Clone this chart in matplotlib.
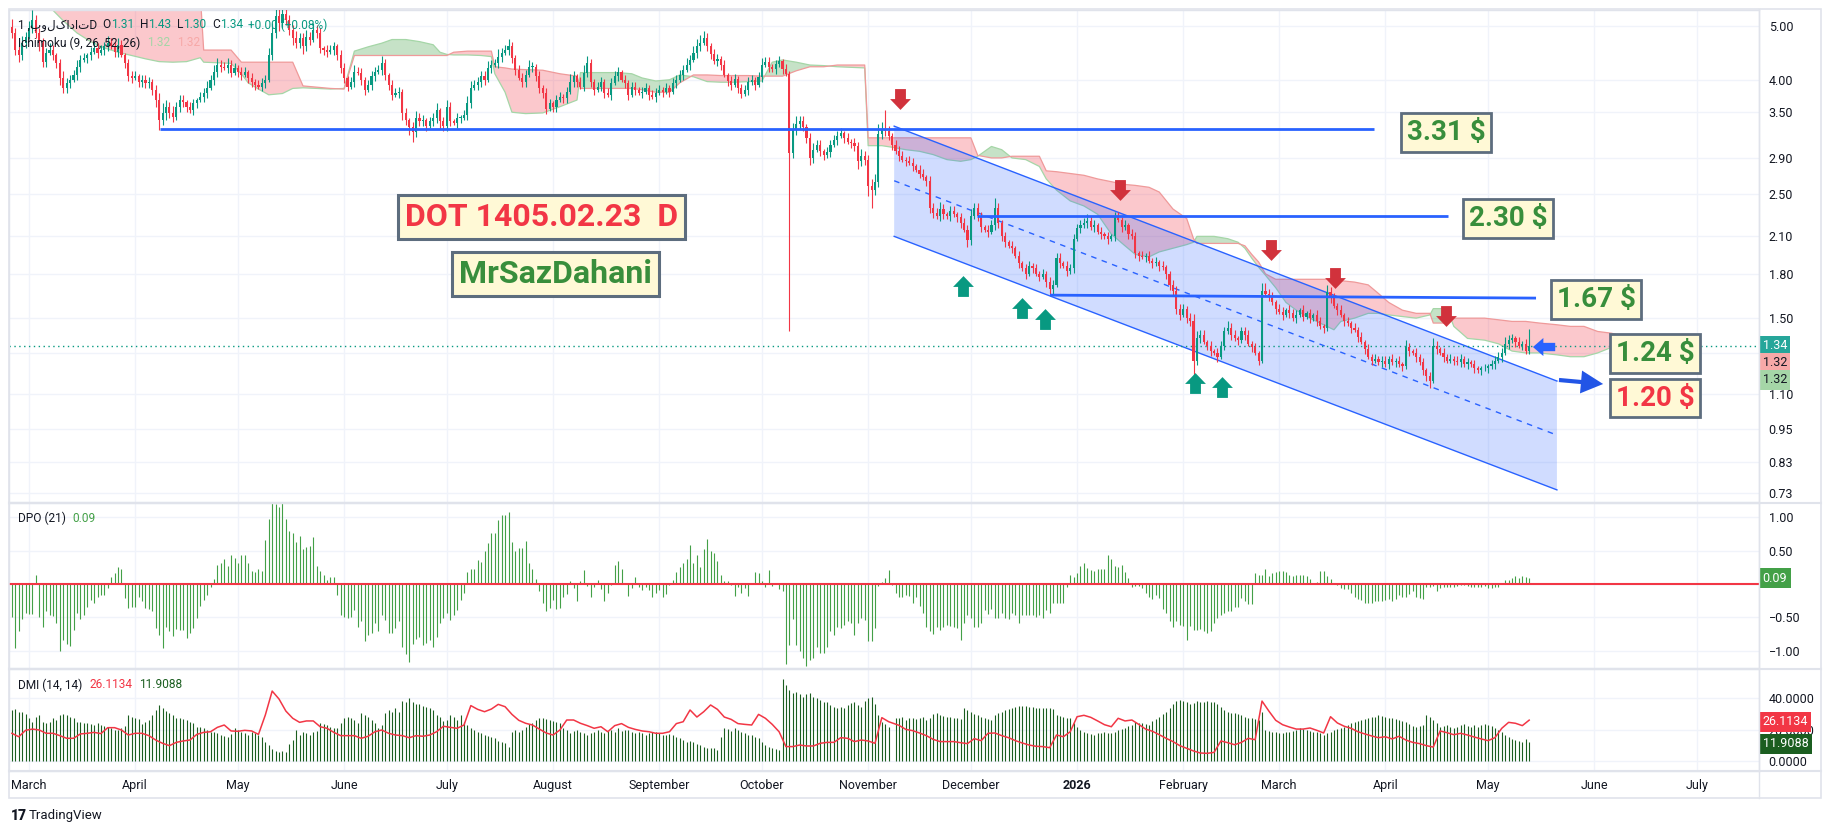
import numpy as np
import pandas as pd
import matplotlib
matplotlib.use("Agg")
from matplotlib import pyplot as plt
from matplotlib.path import Path
from matplotlib.lines import Line2D
from matplotlib.patches import Polygon, Rectangle
from matplotlib.ticker import FixedLocator, FixedFormatter, NullLocator
from matplotlib.transforms import blended_transform_factory

plt.rcParams['font.family'] = ['Roboto', 'DejaVu Sans']

UP, DOWN = '#089981', '#f23645'
TEXT = '#131722'
GRID = '#f0f3fa'
EDGE = '#e0e3eb'
BLUE = '#2962ff'

W, H = 1833, 833
BASE = pd.Timestamp('2025-03-01')
FIRST_DAY = -5          # first candle: 2025-02-24
FIRST_OPEN = 4.98

# daily closes, DOT/USD, 2025-02-24 .. 2026-05-13
close_spring = [
    4.85, 4.52, 4.43, 4.65, 4.77, 4.95, 5.12, 4.85, 4.65, 4.31,
    4.47, 4.52, 4.43, 4.28, 4.03, 3.87, 3.95, 4.00, 4.08, 4.22,
    4.34, 4.38, 4.43, 4.49, 4.56, 4.47, 4.52, 4.59, 4.65, 4.59,
    4.49, 4.62, 4.43, 4.28, 4.06, 4.03, 4.06, 3.97, 4.00, 3.95,
    3.97, 3.84, 3.68, 3.39, 3.49, 3.58, 3.49, 3.43, 3.58, 3.68,
    3.65, 3.58, 3.53, 3.63, 3.68, 3.73, 3.79, 3.87, 4.00, 4.13,
    4.25, 4.22, 4.20, 4.25, 4.12, 4.20, 4.13, 4.08, 4.13, 4.03,
    3.97, 3.92, 3.89, 3.95, 4.00, 4.43, 4.85, 5.19, 5.05, 5.25,
    5.12, 4.91, 4.75, 4.65, 4.75, 4.59, 4.77, 4.71, 4.91, 4.85,
    4.56, 4.52, 4.49, 4.52, 4.59, 4.43, 4.20, 4.03, 3.89, 3.97,
]
close_summer = [
    4.13, 4.12, 4.00, 3.84, 3.92, 4.06, 4.13, 4.17, 4.28, 4.08,
    3.92, 3.76, 3.79, 3.81, 3.49, 3.39, 3.29, 3.22, 3.42, 3.37,
    3.39, 3.31, 3.37, 3.42, 3.53, 3.37, 3.31, 3.58, 3.37, 3.35,
    3.42, 3.42, 3.46, 3.63, 3.87, 3.92, 3.97, 4.06, 4.00, 4.20,
    4.25, 4.28, 4.40, 4.47, 4.52, 4.59, 4.38, 4.17, 4.03, 3.97,
    4.08, 4.22, 4.22, 4.06, 3.87, 3.79, 3.55, 3.63, 3.58, 3.68,
    3.73, 3.71, 3.81, 3.97, 4.06, 3.97, 3.89, 4.12, 4.28, 3.97,
    3.84, 3.89, 3.97, 3.79, 3.76, 3.95, 4.06, 4.13, 4.00, 3.95,
    3.76, 3.89, 3.84, 3.79, 3.81, 3.87, 3.76, 3.73, 3.79, 3.84,
    3.81, 3.87, 3.81, 3.95, 4.00, 4.08, 4.17, 4.25, 4.34, 4.47,
]
close_autumn = [
    4.59, 4.66, 4.75, 4.60, 4.45, 4.32, 4.36, 4.25, 4.08, 3.98,
    3.92, 4.02, 3.86, 3.78, 3.84, 3.96, 4.00, 3.92, 4.05, 4.25,
    4.30, 4.22, 4.18, 4.26, 4.32, 4.18, 4.10, 2.96, 3.25, 3.34,
    3.38, 3.30, 3.15, 2.90, 3.00, 3.06, 2.98, 2.93, 2.97, 3.06,
    3.12, 3.18, 3.21, 3.15, 3.10, 3.08, 3.04, 2.86, 2.92, 2.88,
    2.58, 2.54, 2.63, 3.20, 3.27, 3.24, 3.18, 3.06, 2.98, 2.92,
    2.88, 2.86, 2.84, 2.80, 2.76, 2.72, 2.68, 2.64, 2.36, 2.31,
    2.28, 2.35, 2.30, 2.28, 2.33, 2.30, 2.27, 2.22, 2.16, 2.07,
    2.28, 2.36, 2.28, 2.18, 2.16, 2.14, 2.20, 2.36, 2.22, 2.10,
    2.05, 2.02, 2.00, 1.94, 1.88, 1.84, 1.80, 1.86, 1.84, 1.80,
]
close_winter = [
    1.78, 1.80, 1.74, 1.69, 1.72, 1.92, 1.88, 1.86, 1.82, 1.84,
    2.08, 2.17, 2.20, 2.22, 2.24, 2.18, 2.20, 2.14, 2.12, 2.10,
    2.08, 2.10, 2.28, 2.25, 2.18, 2.20, 2.12, 2.10, 1.96, 1.94,
    1.93, 1.94, 1.90, 1.88, 1.89, 1.86, 1.85, 1.80, 1.72, 1.68,
    1.56, 1.52, 1.56, 1.50, 1.48, 1.26, 1.38, 1.40, 1.36, 1.34,
    1.31, 1.30, 1.28, 1.34, 1.42, 1.44, 1.40, 1.38, 1.37, 1.42,
    1.40, 1.35, 1.33, 1.30, 1.26, 1.68, 1.66, 1.64, 1.60, 1.56,
    1.54, 1.52, 1.55, 1.53, 1.50, 1.52, 1.55, 1.51, 1.53, 1.50,
    1.52, 1.48, 1.45, 1.44, 1.67, 1.63, 1.58, 1.55, 1.52, 1.48,
    1.47, 1.44, 1.43, 1.39, 1.36, 1.32, 1.28, 1.26, 1.27, 1.25,
]
close_spring26 = [
    1.26, 1.24, 1.27, 1.25, 1.26, 1.24, 1.23, 1.33, 1.31, 1.30,
    1.28, 1.25, 1.21, 1.18, 1.16, 1.34, 1.32, 1.30, 1.28, 1.26,
    1.27, 1.26, 1.25, 1.27, 1.24, 1.25, 1.24, 1.22, 1.21, 1.22,
    1.22, 1.23, 1.24, 1.26, 1.28, 1.30, 1.35, 1.37, 1.38, 1.36,
    1.34, 1.35, 1.31, 1.34,
]

# wick lengths in percent of the body edge
wick_up = [
    3, 2, 2, 3, 2, 3, 4, 2, 2, 2,  2, 3, 2, 1, 2, 3, 2, 2, 2, 3,
    2, 2, 1, 2, 3, 2, 2, 2, 3, 2,  2, 3, 2, 1, 2, 2, 2, 1, 2, 2,
    2, 1, 2, 3, 4, 3, 2, 3, 2, 2,  2, 1, 2, 2, 1, 2, 2, 3, 2, 3,
    3, 2, 2, 3, 2, 2, 1, 2, 2, 1,  2, 1, 2, 2, 2, 3, 4, 4, 3, 4,
    3, 2, 2, 3, 2, 2, 3, 2, 3, 2,  2, 1, 2, 2, 2, 1, 2, 2, 1, 2,
    3, 2, 2, 1, 2, 2, 2, 2, 3, 2,  1, 2, 2, 2, 1, 2, 1, 2, 3, 2,
    2, 1, 2, 2, 3, 1, 2, 3, 2, 1,  2, 1, 2, 3, 3, 2, 2, 2, 2, 3,
    2, 2, 3, 2, 2, 3, 2, 1, 2, 2,  2, 3, 2, 1, 2, 1, 2, 2, 1, 2,
    2, 1, 2, 3, 2, 1, 2, 3, 3, 2,  1, 2, 2, 1, 2, 2, 2, 2, 1, 2,
    1, 2, 2, 1, 2, 2, 1, 2, 2, 2,  1, 2, 1, 2, 2, 2, 2, 3, 2, 3,
    3, 3, 3, 2, 1, 2, 2, 1, 2, 1,  2, 2, 1, 2, 2, 2, 2, 1, 2, 3,
    2, 2, 1, 2, 2, 1, 2, 1, 3, 3,  2, 2, 1, 2, 3, 2, 2, 1, 2, 2,
    2, 2, 2, 1, 2, 1, 2, 2, 3, 2,  2, 3, 3, 4, 3, 8, 2, 1, 2, 2,
    2, 1, 2, 2, 1, 2, 2, 1, 2, 2,  2, 3, 2, 1, 2, 2, 1, 2, 2, 2,
    3, 2, 2, 2, 1, 2, 2, 4, 2, 1,  2, 1, 2, 1, 2, 1, 2, 2, 1, 2,
    1, 2, 1, 2, 2, 2, 2, 1, 2, 2,  2, 2, 2, 2, 3, 2, 2, 1, 2, 1,
    2, 1, 2, 2, 1, 2, 1, 2, 2, 1,  2, 1, 2, 1, 2, 1, 2, 1, 1, 2,
    2, 2, 2, 1, 2, 3, 3, 2, 2, 1,  2, 1, 2, 2, 2, 3, 2, 2, 1, 2,
    2, 2, 1, 2, 1, 3, 3, 2, 2, 1,  2, 2, 1, 2, 2, 2, 1, 2, 1, 2,
    1, 2, 2, 1, 3, 2, 2, 1, 2, 1,  2, 1, 2, 1, 2, 1, 2, 1, 2, 1,
    2, 2, 1, 2, 1, 2, 1, 3, 2, 1,  2, 1, 2, 1, 2, 3, 2, 1, 2, 1,
    2, 1, 2, 2, 1, 2, 1, 2, 1, 1,  2, 1, 2, 2, 2, 2, 3, 2, 2, 1,
    2, 1, 2, 7,
]
wick_dn = [
    2, 2, 3, 2, 2, 1, 2, 2, 3, 2,  2, 1, 2, 2, 3, 2, 2, 2, 1, 2,
    2, 1, 2, 2, 1, 2, 1, 2, 2, 1,  2, 2, 1, 2, 2, 2, 1, 2, 2, 2,
    2, 2, 3, 4, 2, 3, 2, 2, 1, 2,  2, 2, 1, 2, 2, 1, 2, 2, 1, 2,
    2, 2, 1, 2, 2, 1, 2, 2, 1, 2,  2, 2, 1, 2, 2, 1, 2, 2, 3, 2,
    2, 2, 3, 2, 2, 3, 2, 2, 1, 2,  2, 2, 2, 1, 2, 2, 2, 2, 2, 1,
    2, 1, 2, 2, 1, 2, 2, 1, 2, 2,  2, 2, 1, 2, 3, 2, 3, 4, 2, 2,
    2, 2, 1, 2, 2, 3, 2, 2, 2, 1,  2, 2, 1, 2, 2, 1, 2, 2, 2, 1,
    2, 1, 2, 2, 1, 2, 2, 2, 1, 2,  2, 1, 2, 2, 2, 2, 2, 1, 2, 2,
    1, 2, 2, 1, 2, 2, 1, 2, 2, 2,  2, 1, 2, 2, 1, 2, 1, 2, 1, 2,
    2, 1, 2, 1, 2, 1, 2, 1, 2, 1,  2, 1, 2, 1, 2, 1, 2, 1, 2, 1,
    2, 2, 1, 2, 2, 1, 2, 2, 1, 2,  2, 1, 2, 2, 1, 2, 1, 2, 1, 2,
    1, 2, 1, 2, 1, 2, 1, 52, 2, 2, 2, 2, 2, 3, 2, 1, 2, 2, 1, 2,
    1, 2, 1, 2, 1, 2, 2, 3, 2, 2,  4, 7, 2, 2, 2, 2, 2, 2, 1, 2,
    1, 2, 1, 2, 1, 2, 1, 2, 2, 2,  1, 2, 2, 1, 2, 1, 2, 2, 1, 3,
    2, 1, 2, 2, 1, 2, 1, 2, 2, 2,  2, 1, 2, 1, 2, 1, 2, 1, 2, 1,
    2, 1, 2, 2, 2, 1, 2, 1, 2, 1,  2, 1, 2, 1, 2, 1, 2, 1, 2, 1,
    2, 1, 2, 1, 2, 1, 2, 1, 2, 2,  1, 2, 1, 2, 1, 2, 1, 2, 2, 2,
    2, 2, 1, 2, 2, 9, 2, 2, 1, 2,  2, 1, 2, 1, 2, 1, 2, 1, 2, 1,
    2, 1, 2, 1, 2, 1, 1, 2, 1, 2,  1, 2, 1, 2, 1, 2, 1, 2, 1, 2,
    1, 2, 1, 2, 1, 2, 1, 2, 1, 2,  1, 2, 1, 2, 1, 2, 1, 2, 1, 1,
    2, 1, 2, 1, 2, 1, 2, 1, 2, 1,  2, 1, 2, 2, 3, 1, 2, 1, 2, 1,
    1, 2, 1, 2, 1, 2, 1, 2, 1, 2,  1, 2, 1, 2, 1, 2, 1, 2, 1, 2,
    1, 2, 1, 1,
]

# Ichimoku cloud (leading spans)
cloud_day = [6, 10, 14, 18, 22, 26, 30, 34, 38, 42, 46, 50, 51, 55, 59, 62, 64, 67, 70, 74,
             77, 80, 84, 88, 92, 95, 99, 103, 106, 110, 114, 118, 120, 122, 124, 128, 132, 135, 136, 139,
             141, 145, 150, 155, 160, 161, 166, 172, 176, 179, 183, 187, 190, 194, 198, 202, 206, 210, 214, 217,
             220, 224, 228, 232, 236, 240, 244, 245, 249, 252, 256, 260, 264, 268, 272, 275, 277, 281, 284, 287,
             291, 295, 297, 300, 304, 308, 312, 316, 320, 323, 327, 330, 334, 338, 340, 341, 346, 350, 353, 355,
             357, 359, 361, 364, 367, 370, 374, 378, 381, 383, 387, 391, 394, 397, 401, 405, 409, 410, 414, 416,
             420, 425, 429, 433, 437, 441, 446, 450, 454, 458, 462, 464]
span_a = [5.40, 5.10, 4.85, 4.68, 4.56, 4.48, 4.42, 4.36, 4.31, 4.30, 4.31, 4.38, 4.30, 4.29, 4.28, 4.10, 3.95, 3.85, 3.76, 3.78,
          3.86, 3.87, 3.86, 3.85, 3.86, 4.50, 4.58, 4.65, 4.72, 4.72, 4.68, 4.62, 4.48, 4.44, 4.43, 4.43, 4.42, 4.40, 4.10, 3.80,
          3.50, 3.48, 3.49, 3.58, 3.68, 4.12, 4.12, 4.12, 4.10, 4.03, 3.98, 4.00, 4.08, 4.05, 3.97, 3.96, 3.96, 3.97, 3.98, 4.30,
          4.34, 4.30, 4.25, 4.24, 4.22, 4.21, 4.20, 3.05, 3.05, 3.03, 3.00, 2.98, 2.94, 2.88, 2.86, 2.88, 2.92, 3.04, 3.00, 2.90,
          2.88, 2.80, 2.66, 2.54, 2.43, 2.38, 2.30, 2.12, 2.02, 1.95, 1.93, 1.97, 2.00, 2.03, 2.05, 2.10, 2.10, 2.08, 2.05, 2.00,
          1.92, 1.85, 1.79, 1.70, 1.60, 1.55, 1.50, 1.46, 1.43, 1.48, 1.50, 1.53, 1.53, 1.52, 1.51, 1.50, 1.52, 1.56, 1.56, 1.45,
          1.38, 1.37, 1.35, 1.31, 1.30, 1.30, 1.29, 1.28, 1.28, 1.30, 1.33, 1.34]
span_b = [5.70, 5.70, 5.70, 5.70, 5.70, 5.70, 5.70, 5.70, 5.70, 5.70, 5.70, 5.70, 4.52, 4.52, 4.52, 4.30, 4.30, 4.30, 4.30, 4.30,
          4.30, 3.90, 3.88, 3.86, 3.85, 4.42, 4.42, 4.42, 4.42, 4.42, 4.42, 4.42, 4.42, 4.42, 4.48, 4.50, 4.50, 4.50, 4.22, 4.20,
          4.18, 4.17, 4.16, 4.10, 4.06, 3.86, 3.86, 3.86, 3.86, 3.84, 3.80, 3.80, 3.95, 4.08, 4.08, 4.07, 4.07, 4.07, 4.06, 4.06,
          4.06, 4.15, 4.22, 4.22, 4.25, 4.25, 4.25, 3.15, 3.15, 3.15, 3.15, 3.15, 3.15, 3.15, 3.15, 3.15, 2.93, 2.90, 2.90, 2.92,
          2.92, 2.92, 2.75, 2.74, 2.72, 2.70, 2.66, 2.63, 2.60, 2.59, 2.57, 2.52, 2.35, 2.26, 2.08, 2.04, 2.04, 2.04, 2.04, 2.02,
          1.95, 1.89, 1.80, 1.76, 1.76, 1.76, 1.76, 1.76, 1.76, 1.75, 1.74, 1.72, 1.66, 1.60, 1.55, 1.53, 1.53, 1.47, 1.47, 1.50,
          1.50, 1.50, 1.49, 1.48, 1.48, 1.47, 1.46, 1.45, 1.45, 1.42, 1.41, 1.40]

# DPO (21), one bar per day
dpo_early = [
    -0.49, -0.96, -0.70, -0.53, -0.44, -0.45, -0.45, 0.13, -0.50, -0.64,
    -0.41, -0.46, -0.48, -0.58, -1.01, -0.84, -0.90, -0.93, -0.69, -0.44,
    -0.53, -0.46, -0.34, -0.24, -0.29, -0.19, -0.16, -0.16, -0.06, 0.11,
    0.17, 0.26, 0.23, -0.21, -0.36, -0.35, -0.34, -0.19, -0.26, -0.36,
    -0.38, -0.41, -0.66, -0.76, -0.96, -0.64, -0.71, -0.78, -0.68, -0.69,
    -0.69, -0.81, -0.74, -0.66, -0.51, -0.33, -0.24, -0.16, -0.05, 0.07,
    0.28, 0.32, 0.38, 0.27, 0.44, 0.39, 0.32, 0.43, 0.43, 0.32,
    0.19, 0.18, 0.22, 0.19, 0.66, 0.98, 1.22, 1.21, 1.16, 1.22,
    0.97, 0.79, 0.77, 0.63, 0.72, 0.53, 0.56, 0.57, 0.71, 0.27,
    0.19, 0.13, 0.06, 0.11, 0.11, -0.16, -0.46, -0.49, -0.51, -0.49,
    -0.39, -0.64, -0.56, -0.86, -0.76, -0.74, -0.59, -0.70, -0.46, -0.54,
    -0.73, -0.74, -0.66, -0.55, -0.94, -1.05, -1.18, -0.90, -0.83, -0.80,
    -0.91, -0.89, -0.84, -0.94, -0.80, -0.59, -0.51, -0.44, -0.54, -0.46,
    -0.39, -0.24, -0.13, 0.18, 0.23, 0.23, 0.36, 0.33, 0.49, 0.62,
    0.77, 0.77, 0.96, 1.04, 1.04, 1.08, 0.63, 0.49, 0.54, 0.54,
    0.64, 0.32, 0.22, 0.07, -0.11, -0.29, -0.40, -0.36, -0.24, -0.38,
    -0.36, -0.20, -0.15, 0.04, -0.06, -0.26, 0.04, 0.21, -0.03, -0.19,
    -0.05, 0.06, -0.08, -0.26, -0.14, -0.01, 0.29, 0.34, 0.22, 0.02,
    -0.18, -0.06, 0.11, -0.05, -0.09, -0.05, -0.09, -0.19, -0.14, -0.09,
    -0.19, -0.15, -0.01, 0.06, 0.18, 0.26, 0.32, 0.38, 0.58, 0.31,
    0.44, 0.26, 0.52, 0.67, 0.49, 0.47, 0.34, 0.14, 0.04, 0.04,
    -0.01, -0.18, -0.05, -0.13, -0.06, -0.18, 0.02, 0.18, 0.17, 0.04,
    -0.04, 0.21, -0.03, 0.02, -0.08, -0.11, -1.21, -0.91, -0.53, -0.91,
    -1.01, -1.11, -1.24, -1.14, -1.11, -0.94, -1.04, -1.04, -0.94, -0.71,
    -0.76, -0.64, -0.66, -0.61, -0.56, -0.58, -0.76, -0.59, -0.51, -0.54,
    -0.86, -0.86, -0.66, -0.03, 0.03, 0.09, 0.21, -0.01,
]
dpo_late = [
    -0.14, -0.19, -0.20, -0.16, -0.18, -0.29, -0.20, -0.33, -0.44, -0.64,
    -0.70, -0.75, -0.65, -0.69, -0.64, -0.61, -0.63, -0.65, -0.66, -0.84,
    -0.58, -0.46, -0.51, -0.64, -0.64, -0.59, -0.39, -0.45, -0.38, -0.51,
    -0.51, -0.43, -0.51, -0.53, -0.44, -0.46, -0.58, -0.46, -0.46, -0.46,
    -0.46, -0.49, -0.46, -0.51, -0.39, -0.44, -0.29, -0.29, -0.28, -0.28,
    -0.05, 0.14, 0.11, 0.17, 0.27, 0.31, 0.24, 0.21, 0.19, 0.22,
    0.23, 0.22, 0.43, 0.37, 0.27, 0.25, 0.28, 0.18, 0.09, -0.05,
    -0.03, -0.03, -0.06, -0.14, -0.20, -0.23, -0.16, -0.21, -0.38, -0.44,
    -0.56, -0.64, -0.56, -0.61, -0.63, -0.84, -0.63, -0.69, -0.69, -0.68,
    -0.70, -0.73, -0.71, -0.58, -0.51, -0.46, -0.43, -0.41, -0.40, -0.35,
    -0.34, -0.21, -0.26, -0.30, -0.30, 0.16, 0.13, 0.14, 0.23, 0.12,
    0.16, 0.18, 0.19, 0.19, 0.18, 0.13, 0.12, 0.13, 0.14, 0.13,
    0.12, 0.07, 0.02, 0.03, 0.19, 0.19, 0.12, 0.07, 0.02, -0.01,
    -0.06, -0.08, -0.08, -0.13, -0.19, -0.23, -0.24, -0.29, -0.28, -0.29,
    -0.26, -0.26, -0.25, -0.24, -0.23, -0.25, -0.23, -0.16, -0.19, -0.20,
    -0.15, -0.10, -0.19, -0.21, -0.23, -0.05, -0.05, -0.03, -0.10, -0.06,
    -0.05, -0.04, -0.05, -0.04, -0.03, -0.01, -0.01, -0.03, -0.05, -0.05, -0.04, -0.05, -0.03,
    -0.06, -0.06, -0.05, -0.04, 0.02, 0.06, 0.06, 0.09, 0.12, 0.09,
    0.12, 0.11, 0.09,
]

# DMI (14, 14): -DI columns (daily) and +DI line (every second day)
minus_di_early = [
    32.6, 33.2, 31.5, 31.1, 29.8, 27.3, 25.1, 28.3, 29.4, 25.1,
    24.1, 25.1, 27.3, 26.2, 29.4, 29.8, 29.4, 28.3, 27.3, 25.1,
    24.7, 24.1, 24.1, 23.4, 23.0, 24.1, 23.0, 22.6, 21.9, 20.9,
    19.8, 19.8, 20.9, 22.6, 29.4, 28.3, 27.7, 26.8, 23.4, 24.7,
    26.2, 29.4, 32.6, 35.8, 34.1, 31.9, 30.5, 29.4, 27.7, 27.3,
    26.8, 26.2, 25.1, 24.1, 21.9, 21.9, 20.9, 19.8, 18.7, 18.3,
    17.7, 16.6, 16.2, 15.5, 17.0, 20.9, 19.8, 18.7, 17.7, 16.6,
    18.7, 17.7, 16.6, 15.5, 12.4, 10.2, 7.7, 6.4, 5.5, 6.4,
    6.0, 10.6, 13.4, 19.8, 16.6, 18.7, 17.7, 16.6, 18.7, 19.2,
    24.1, 23.4, 23.0, 21.9, 21.3, 20.9, 24.1, 27.7, 28.3, 27.3,
    26.2, 24.1, 30.5, 29.4, 28.3, 26.2, 24.1, 20.9, 23.0, 30.5,
    32.6, 31.5, 34.1, 31.5, 38.3, 37.9, 40.0, 37.9, 36.2, 36.2,
    35.4, 34.7, 33.7, 32.6, 29.4, 28.3, 25.6, 26.2, 29.4, 28.3,
    26.2, 29.4, 25.1, 23.0, 21.3, 19.8, 18.7, 17.7, 16.6, 16.2,
    15.5, 14.5, 12.8, 11.9, 11.3, 9.2, 18.7, 19.8, 18.7, 19.8,
    21.9, 23.4, 24.1, 26.2, 27.3, 27.7, 26.8, 26.2, 25.6, 24.7,
    24.1, 20.9, 19.8, 17.7, 19.2, 19.8, 18.7, 17.7, 16.6, 17.7,
    18.7, 19.8, 18.7, 17.7, 19.2, 19.8, 18.7, 20.9, 19.2, 19.8,
    19.8, 18.7, 17.7, 18.7, 17.7, 16.6, 17.7, 18.7, 18.7, 17.7,
    16.6, 16.6, 17.0, 16.6, 15.5, 14.5, 13.4, 12.4, 12.8, 11.9,
    10.6, 10.2, 9.2, 8.1, 8.5, 8.1, 7.0, 15.5, 20.9, 20.4,
    19.2, 20.9, 19.8, 18.7, 17.7, 16.6, 16.6, 15.5, 14.5, 12.4,
    10.2, 9.2, 8.1, 7.7, 7.0, 52.4, 48.6, 45.4, 43.2, 43.9,
    42.6, 41.1, 42.6, 43.2, 41.1, 40.0, 39.0, 37.9, 37.9, 35.8,
    34.7, 34.1, 34.7, 33.7, 35.8, 36.8, 37.9, 35.8, 34.7, 38.3,
    40.0, 41.1, 36.2, 29.4, 25.1, 23.4, 21.9,
]
minus_di_late = [
    27.7, 27.3, 28.3, 26.2, 27.3, 27.7, 26.8, 27.3, 28.3, 26.2,
    27.3, 29.8, 30.5, 29.4, 29.0, 28.3, 28.1, 27.7, 27.3, 26.8,
    34.1, 32.6, 31.5, 29.8, 29.4, 28.3, 27.3, 26.8, 26.2, 29.4,
    30.5, 31.5, 32.6, 33.2, 34.1, 34.7, 35.4, 35.4, 35.4, 34.7,
    34.7, 34.1, 34.1, 33.7, 33.7, 33.7, 33.2, 29.4, 29.0, 28.3,
    27.7, 27.3, 24.1, 21.9, 19.8, 18.7, 17.7, 17.0, 16.6, 17.7,
    17.7, 18.3, 18.1, 17.7, 18.7, 19.8, 20.4, 20.9, 22.6, 23.0,
    24.7, 24.5, 24.1, 23.4, 23.0, 25.6, 26.8, 28.3, 29.8, 31.5,
    33.7, 36.2, 38.3, 39.0, 38.3, 37.5, 36.2, 36.8, 38.3, 37.9,
    37.5, 38.3, 37.5, 37.5, 36.2, 34.7, 32.6, 31.5, 30.9, 30.5,
    29.8, 29.4, 28.3, 27.7, 27.3, 26.8, 26.2, 31.5, 19.8, 19.2,
    18.7, 18.3, 17.7, 18.1, 18.7, 18.7, 19.2, 19.8, 20.9, 20.4,
    19.8, 19.2, 18.7, 18.3, 17.7, 16.6, 17.7, 18.7, 19.8, 20.4,
    20.9, 21.7, 23.0, 24.1, 25.1, 25.8, 26.2, 26.8, 27.3, 28.1,
    28.3, 29.4, 29.0, 28.3, 27.7, 27.3, 26.6, 26.2, 25.6, 25.1,
    23.4, 22.6, 21.9, 22.6, 23.0, 29.4, 28.3, 26.2, 24.1, 21.9,
    22.6, 23.0, 21.9, 20.9, 21.9, 23.0, 23.4, 22.6, 21.9, 23.0,
    21.9, 23.0, 23.4, 23.0, 22.6, 20.9, 19.8, 18.7, 16.6, 15.5,
    14.1, 13.4, 12.8, 12.4, 14.1, 11.9088,
]
plus_di_early = [
    17.7, 15.5, 19.6, 20.4, 19.8, 17.7, 17.7, 16.2, 14.5, 14.5,
    17.3, 17.7, 18.3, 17.5, 21.3, 21.3, 19.8, 16.6, 17.7, 17.7,
    16.2, 13.4, 11.3, 9.8, 11.9, 12.8, 13.4, 17.0, 18.3, 18.7,
    21.5, 23.0, 19.2, 19.0, 19.6, 19.2, 17.0, 29.4, 44.7, 39.6,
    31.9, 27.3, 24.7, 25.6, 25.6, 21.9, 20.9, 18.3, 16.2, 16.2,
    16.2, 14.5, 15.8, 18.7, 19.8, 17.7, 16.6, 16.2, 14.9, 16.2,
    15.8, 16.6, 18.7, 22.2, 21.5, 20.9, 23.0, 35.4, 33.0, 31.5,
    33.2, 36.2, 34.7, 29.8, 26.0, 24.1, 23.0, 20.4, 17.9, 16.6,
    19.8, 26.2, 26.2, 24.1, 22.6, 20.9, 21.9, 18.7, 22.6, 23.9,
    21.5, 20.2, 19.2, 18.7, 17.7, 17.7, 18.7, 23.9, 25.1, 32.6,
    28.1, 31.5, 35.8, 33.0, 28.1, 26.6, 23.9, 23.4, 23.0, 29.8,
    27.3, 23.4, 18.7, 9.2, 9.2, 10.2, 9.6, 9.6, 11.3, 11.9,
    11.9, 14.9, 14.5, 12.4, 13.4, 12.8, 11.3, 27.7, 25.1,
]
plus_di_late = [
    22.8, 20.2, 19.4, 17.9, 16.2, 13.8, 12.4, 12.4, 12.4, 11.7,
    11.1, 14.3, 13.0, 17.7, 17.9, 16.2, 14.9, 13.0, 11.5, 10.2,
    9.4, 9.2, 8.5, 16.6, 15.5, 18.7, 28.3, 29.2, 27.9, 25.6,
    23.2, 21.9, 27.3, 25.6, 26.2, 23.4, 20.4, 19.0, 16.8, 14.5,
    12.4, 9.8, 8.1, 6.4, 5.1, 4.9, 5.5, 12.8, 11.7, 10.4,
    11.9, 14.5, 13.6, 38.3, 31.9, 26.0, 23.2, 21.7, 20.4, 20.4,
    21.1, 19.6, 17.9, 28.3, 24.3, 22.2, 20.9, 18.7, 17.3, 16.0,
    14.9, 15.5, 14.1, 15.8, 13.4, 11.9, 11.1, 9.8, 8.9, 19.2,
    18.1, 16.8, 17.7, 16.6, 15.3, 14.1, 13.0, 14.9, 20.9, 24.7,
    24.1, 22.6, 26.1134,
]

price_ticks = [5.00, 4.00, 3.50, 2.90, 2.50, 2.10, 1.80, 1.50, 1.30, 1.10, 0.95, 0.83, 0.73]
price_labels = ['5.00', '4.00', '3.50', '2.90', '2.50', '2.10', '1.80', '1.50', '', '1.10', '0.95', '0.83', '0.73']
dpo_ticks = [1.0, 0.5, 0.0, -0.5, -1.0]
dpo_labels = ['1.00', '0.50', '', '\u22120.50', '\u22121.00']
dmi_ticks = [40, 20, 0]
dmi_labels = ['40.0000', '20.0000', '0.0000']

# drawings (day, price)
channel_top = [(252.6, 3.305), (446.1, 1.158)]
channel_bottom = [(252.6, 2.10), (446.1, 0.740)]
channel_mid = [(252.6, 2.64), (446.1, 0.927)]
levels = [((38.2, 3.26), (392.7, 3.26)), ((276.7, 2.28), (414.3, 2.28)), ((298.1, 1.649), (440.0, 1.629))]
level_tags = [('3.31 $', 413.7, 3.22, '#388e3c'), ('2.30 $', 431.8, 2.26, '#388e3c'),
              ('1.67 $', 457.5, 1.62, '#388e3c'), ('1.24 $', 474.7, 1.297, '#388e3c'),
              ('1.20 $', 474.7, 1.078, '#f23645')]
sell_marks = [(254.3, 3.70), (318.5, 2.545), (362.6, 1.989), (381.3, 1.773), (413.7, 1.513)]
buy_marks = [(272.7, 1.712), (289.9, 1.567), (296.6, 1.497), (340.4, 1.149), (348.3, 1.128)]

closes = np.array(close_spring + close_summer + close_autumn + close_winter + close_spring26)
n = min(len(closes), len(wick_up), len(wick_dn))
closes = closes[:n]
days = FIRST_DAY + np.arange(n)
opens = np.r_[FIRST_OPEN, closes[:-1]]
highs = np.maximum(opens, closes) * (1 + np.array(wick_up[:n]) / 100)
lows = np.minimum(opens, closes) * (1 - np.array(wick_dn[:n]) / 100)
last_day = days[-1]

fig = plt.figure(figsize=(W / 100, H / 100), dpi=100)
fig.patch.set_facecolor('white')


def rect(x0, y0, x1, y1):
    return [x0 / W, 1 - y1 / H, (x1 - x0) / W, (y1 - y0) / H]


ax = fig.add_axes(rect(9, 10, 1759, 502))
ax_dpo = fig.add_axes(rect(9, 503, 1759, 668), sharex=ax)
ax_dmi = fig.add_axes(rect(9, 669, 1759, 771), sharex=ax)

months = pd.date_range('2025-03-01', '2026-07-01', freq='MS')
month_days = [(m - BASE).days for m in months]
month_labels = ['2026' if (m.month == 1) else m.strftime('%B') for m in months]

for a in (ax, ax_dpo, ax_dmi):
    for s in a.spines.values():
        s.set_color(EDGE)
        s.set_linewidth(1)
    a.grid(True, color=GRID, lw=1)
    a.set_axisbelow(True)
    a.yaxis.tick_right()
    a.tick_params(axis='y', length=0, pad=7, labelsize=9, labelcolor=TEXT)
    a.tick_params(axis='x', length=0)

ax.set_xlim(-5.84, 505.1)
ax_dmi.set_xticks(month_days)
ax_dmi.set_xticklabels(month_labels)
ax_dmi.tick_params(axis='x', pad=6, labelsize=9, labelcolor=TEXT)
for lbl in ax_dmi.get_xticklabels():
    if lbl.get_text() == '2026':
        lbl.set_fontweight('bold')
ax.tick_params(axis='x', labelbottom=False)
ax_dpo.tick_params(axis='x', labelbottom=False)

# ---- price pane
ax.set_yscale('log')
ax.set_ylim(0.704, 5.33)
ax.yaxis.set_major_locator(FixedLocator(price_ticks))
ax.yaxis.set_major_formatter(FixedFormatter(price_labels))
ax.yaxis.set_minor_locator(NullLocator())

cd = np.array(cloud_day, float)
sa = np.array(span_a)
sb = np.array(span_b)
ax.fill_between(cd, sa, sb, where=sa >= sb, interpolate=True, color='#43a047', alpha=0.3, lw=0, zorder=1)
ax.fill_between(cd, sa, sb, where=sa < sb, interpolate=True, color='#f23645', alpha=0.27, lw=0, zorder=1)
ax.plot(cd, sa, color='#a5d6a7', lw=0.9, zorder=1.2)
ax.plot(cd, sb, color='#ef9a9a', lw=0.9, zorder=1.2)

chan = Polygon([channel_top[0], channel_top[1], channel_bottom[1], channel_bottom[0]],
               closed=True, fc=BLUE, alpha=0.22, ec='none', zorder=1.5)
ax.add_patch(chan)
for seg, ls in ((channel_top, '-'), (channel_bottom, '-'), (channel_mid, (0, (4, 4)))):
    ax.plot([seg[0][0], seg[1][0]], [seg[0][1], seg[1][1]], color=BLUE, lw=1, ls=ls, zorder=1.6)

col = np.where(closes >= opens, UP, DOWN)
ax.vlines(days, lows, highs, colors=col, lw=0.8, zorder=3)
body = np.maximum(np.abs(closes - opens), closes * 0.003)
ax.bar(days, body, bottom=np.minimum(opens, closes), width=0.62, color=col, lw=0, zorder=3.1)

ax.axhline(closes[-1], color=UP, lw=1, ls=(0, (1, 2.5)), zorder=2.5)

for (p0, p1) in levels:
    ax.plot([p0[0], p1[0]], [p0[1], p1[1]], color=BLUE, lw=2, zorder=4, solid_capstyle='butt')

down_arrow = Path([(-0.26, 0.5), (0.26, 0.5), (0.26, 0.02), (0.5, 0.02), (0, -0.5),
                   (-0.5, 0.02), (-0.26, 0.02), (-0.26, 0.5)],
                  [Path.MOVETO] + [Path.LINETO] * 6 + [Path.CLOSEPOLY])
up_arrow = Path([(x, -y) for x, y in down_arrow.vertices], down_arrow.codes)
sx, sy = zip(*sell_marks)
ax.plot(sx, sy, ls='none', marker=down_arrow, ms=15, color='#d1323c', mew=0, zorder=5)
bx, by = zip(*buy_marks)
ax.plot(bx, by, ls='none', marker=up_arrow, ms=15, color=UP, mew=0, zorder=5)

ax.annotate('', xy=(459.6, 1.144), xytext=(446.7, 1.163),
            arrowprops=dict(arrowstyle='simple,head_length=1.6,head_width=1.65,tail_width=0.3',
                            color='#2255e6', lw=0, shrinkA=0, shrinkB=0), zorder=5, annotation_clip=False)
ax.annotate('', xy=(439.1, 1.332), xytext=(445.6, 1.332),
            arrowprops=dict(arrowstyle='simple,head_length=0.75,head_width=1.3,tail_width=0.6',
                            color='#2962ff', lw=0, shrinkA=0, shrinkB=0), zorder=5, annotation_clip=False)

box = dict(boxstyle='square,pad=0.22', fc='#fff9d6', ec='#5d6d7e', lw=2.2)
ax.text(149.6, 2.27, 'DOT 1405.02.23  D', ha='center', va='center', fontsize=23,
        fontweight='bold', color='#f23645', bbox=box, zorder=6)
ax.text(153.7, 1.80, 'MrSazDahani', ha='center', va='center', fontsize=23,
        fontweight='bold', color='#388e3c', bbox=box, zorder=6)
for txt, dx, py, c in level_tags:
    ax.text(dx, py, txt, ha='center', va='center', fontsize=20, fontweight='bold', color=c,
            bbox=dict(boxstyle='square,pad=0.2', fc='#fff9d6', ec='#5d6d7e', lw=2), zorder=6, clip_on=False)

# ---- DPO pane
dpo = np.array(dpo_early + dpo_late)
dpo_days = np.r_[FIRST_DAY + np.arange(len(dpo_early)), last_day - len(dpo_late) + 1 + np.arange(len(dpo_late))]
ax_dpo.vlines(dpo_days, 0, dpo, colors='#43a047', lw=0.8, zorder=2)
ax_dpo.axhline(0, color='#f23645', lw=1.5, zorder=3)
ax_dpo.set_ylim(-1.263, 1.218)
ax_dpo.yaxis.set_major_locator(FixedLocator(dpo_ticks))
ax_dpo.yaxis.set_major_formatter(FixedFormatter(dpo_labels))

# ---- DMI pane
minus_di = np.array(minus_di_early + minus_di_late)
minus_days = np.r_[FIRST_DAY + np.arange(len(minus_di_early)),
                   last_day - len(minus_di_late) + 1 + np.arange(len(minus_di_late))]
ax_dmi.vlines(minus_days, 0, minus_di, colors='#1b5e20', lw=0.8, zorder=2)
plus_di = np.array(plus_di_early + plus_di_late)
plus_days = np.r_[FIRST_DAY + 2 * np.arange(len(plus_di_early)),
                  last_day - 2 * (len(plus_di_late) - 1) + 2 * np.arange(len(plus_di_late))]
ax_dmi.plot(plus_days, plus_di, color='#f23645', lw=1.1, zorder=3)
ax_dmi.set_ylim(-6.4, 58.8)
ax_dmi.yaxis.set_major_locator(FixedLocator(dmi_ticks))
ax_dmi.yaxis.set_major_formatter(FixedFormatter(dmi_labels))


# ---- value badges on the scale
def badge(a, value, label, fc, tc='white', dy=0):
    tr = blended_transform_factory(a.transAxes, a.transData)
    a.annotate(label, xy=(1, value), xycoords=tr, xytext=(2.6, dy), textcoords='offset points',
               ha='left', va='center', fontsize=9, color=tc, zorder=20, annotation_clip=False,
               bbox=dict(boxstyle='square,pad=0.28', fc=fc, ec='none'))


badge(ax, closes[-1], '1.34', '#26a69a')
badge(ax, closes[-1], '1.32', '#f7a9a8', TEXT, dy=-12.3)
badge(ax, closes[-1], '1.32', '#a5d6a7', TEXT, dy=-24.6)
badge(ax_dpo, dpo[-1], '0.09', '#43a047')
badge(ax_dmi, plus_di[-1], '26.1134', '#f23645', dy=-1)
badge(ax_dmi, minus_di[-1], '11.9088', '#1b5e20', dy=-1)


# ---- legends
def legend_row(a, y, parts, size=8.6):
    t = a.text(9 / 1750, y, parts[0][0], color=parts[0][1], transform=a.transAxes,
               fontsize=size, ha='left', va='center', zorder=20)
    for s, c, gap in parts[1:]:
        t = a.annotate(s, xy=(1, 0.5), xycoords=t, xytext=(gap, 0), textcoords='offset points',
                       ha='left', va='center', fontsize=size, color=c, zorder=20)


persian = '\u0628\u0648\u0644\u06a9\u0627\u062f\u0627\u062a'
legend_row(ax, 1 - 15 / 492, [('1 ,' + persian + 'D', TEXT), ('O', TEXT, 4), ('1.31', UP, 0),
                              ('H', TEXT, 4), ('1.43', UP, 0), ('L', TEXT, 4), ('1.30', UP, 0),
                              ('C', TEXT, 4), ('1.34', UP, 0), ('+0.00 (+0.08%)', UP, 4)])
legend_row(ax, 1 - 33 / 492, [('Ichimoku (9, 26, 52, 26)', TEXT), ('1.32', '#a5d6a7', 5),
                              ('1.32', '#f7a9a8', 5)])
legend_row(ax_dpo, 1 - 15 / 165, [('DPO (21)', TEXT), ('0.09', '#43a047', 5)])
legend_row(ax_dmi, 1 - 16 / 102, [('DMI (14, 14)', TEXT), ('26.1134', '#f23645', 5),
                                  ('11.9088', '#1b5e20', 5)])

# ---- frame, separators, logo
fig.add_artist(Rectangle((9 / W, 1 - 798 / H), (1821 - 9) / W, (798 - 9) / H, transform=fig.transFigure,
                         fill=False, ec=EDGE, lw=1.2))
for py in (502.5, 668.5, 771):
    fig.add_artist(Line2D([9 / W, 1821 / W], [1 - py / H] * 2, transform=fig.transFigure, color=EDGE, lw=1.5))
fig.add_artist(Line2D([1759 / W] * 2, [1 - 9 / H, 1 - 798 / H], transform=fig.transFigure, color=EDGE, lw=1))

fig.text(11 / W, 1 - 816 / H, '17', fontsize=10, fontweight='heavy', color=TEXT, va='center', ha='left')
fig.text(29 / W, 1 - 816 / H, 'TradingView', fontsize=9.5, color=TEXT, va='center', ha='left')

fig.savefig('out.png', dpi=100)
